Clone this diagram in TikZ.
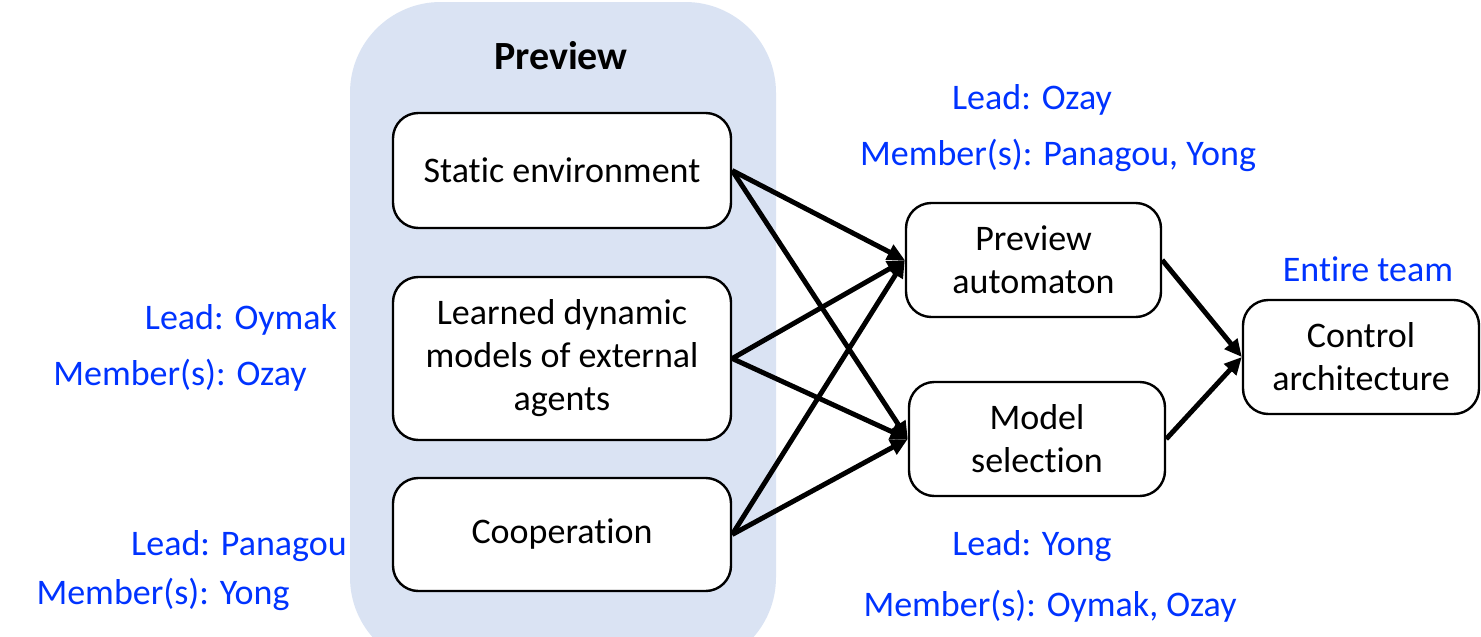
\documentclass[tikz,border=0pt]{standalone}
\usepackage{fontspec}
\setmainfont{Carlito}[Ligatures=NoCommon]
\usetikzlibrary{arrows.meta}
\definecolor{panelblue}{RGB}{218,227,243}
\definecolor{rolecolor}{RGB}{0,51,255}
\tikzset{
  stage/.style={draw=black, line width=1.8pt, rounded corners=19pt, fill=white,
    align=center, inner sep=0pt, font=\fontsize{27}{32.3}\selectfont},
  role/.style={text=rolecolor, inner sep=0pt, font=\fontsize{27}{32}\selectfont},
  flow/.style={line width=3.7pt, -{Triangle[length=13pt,width=12pt]}},
}
\begin{document}
\begin{tikzpicture}[x=0.75pt, y=-0.75pt]
\useasboundingbox (0,0) rectangle (1481,636);

% shaded group of preview sources
\begin{scope}
\clip (0,0) rectangle (1481,636);
\fill[panelblue, rounded corners=68pt] (350,2) rectangle (776,668);
\end{scope}
\node[font=\fontsize{30}{36}\selectfont\bfseries, inner sep=0pt] (title) at (561,56) {Preview};

% source stages
\node[stage, minimum width=338*0.75pt, minimum height=115*0.75pt] (static) at (562,170.5) {Static environment};
\node[stage, minimum width=338*0.75pt, minimum height=163*0.75pt] (learned) at (562,358.5) {Learned dynamic\\models of external\\agents};
\node[stage, minimum width=338*0.75pt, minimum height=113*0.75pt] (coop) at (562,534.5) {Cooperation};

% intermediate stages
\node[stage, minimum width=255*0.75pt, minimum height=114*0.75pt] (pa) at (1033.5,260) {Preview\\automaton};
\node[stage, minimum width=256*0.75pt, minimum height=114*0.75pt] (ms) at (1037,439) {Model\\selection};

% final stage
\node[stage, minimum width=236*0.75pt, minimum height=114*0.75pt] (ca) at (1361,357) {Control\\architecture};

% connections
\draw[flow] (static.east) -- (pa.west);
\draw[flow] (static.east) -- (ms.west);
\draw[flow] (learned.east) -- (pa.west);
\draw[flow] (learned.east) -- (ms.west);
\draw[flow] (coop.east) -- (pa.west);
\draw[flow] (coop.east) -- (ms.west);
\draw[flow] (pa.east) -- (ca.west);
\draw[flow] (ms.east) -- (ca.west);

% team assignments
\node[role] (paLead) at (1032,100) {Lead: Ozay};
\node[role] (paMem) at (1058,155) {Member(s): Panagou, Yong};
\node[role] (caTeam) at (1368,269) {Entire team};
\node[role] (lnLead) at (241,320) {Lead: Oymak};
\node[role] (lnMem) at (180,375) {Member(s): Ozay};
\node[role] (coLead) at (239,546) {Lead: Panagou};
\node[role] (coMem) at (163,594) {Member(s): Yong};
\node[role] (msLead) at (1032,546) {Lead: Yong};
\node[role] (msMem) at (1050,606) {Member(s): Oymak, Ozay};
\end{tikzpicture}
\end{document}
